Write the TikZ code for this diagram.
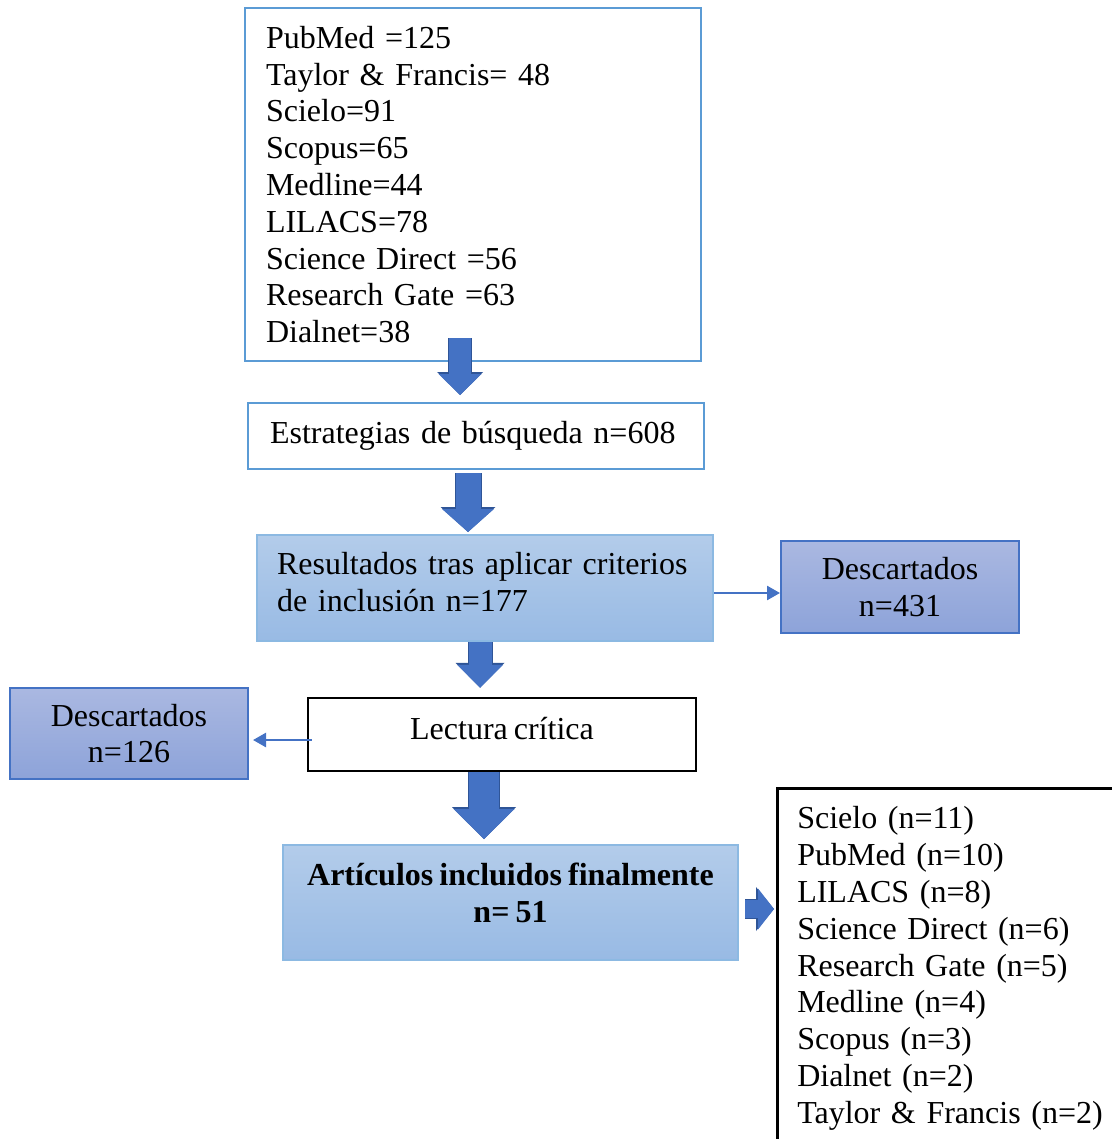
\documentclass[tikz,border=0pt]{standalone}
\usepackage{fontspec}
\setmainfont{Liberation Serif}[WordSpace=0.75]
\usetikzlibrary{arrows.meta}
\usetikzlibrary{calc}

\definecolor{cajaborde}{HTML}{5B9BD5}
\definecolor{flecha}{HTML}{4472C4}
\definecolor{flechaborde}{HTML}{2F5597}
\definecolor{celesteA}{HTML}{B3CCEA}
\definecolor{celesteB}{HTML}{98BAE4}
\definecolor{azulA}{HTML}{AAB8E1}
\definecolor{azulB}{HTML}{8DA3D9}

\tikzset{
  caja/.style={draw=cajaborde,line width=2pt,fill=white,inner sep=0pt},
  celeste/.style={draw=cajaborde!70,line width=2pt,top color=celesteA,bottom color=celesteB,inner sep=0pt,align=center},
  descarte/.style={draw=flecha,line width=2pt,top color=azulA,bottom color=azulB,inner sep=0pt,align=center},
  negra/.style={draw=black,line width=2.5pt,fill=white,inner sep=0pt},
  blockarrow/.style n args={3}{draw=flecha,line width=#1,-{Triangle[width=#2,length=#3,line width=0pt]},
    preaction={draw=flechaborde,line width=#1+2pt,-{Triangle[width=#2+3pt,length=#3+2pt,line width=0pt]}}},
  fina/.style={draw=flecha,line width=2.5pt,-{Triangle[width=14pt,length=13pt]}}
}

\begin{document}
\begin{tikzpicture}[x=1pt,y=-1pt,every node/.style={font=\fontsize{32}{36.8}\selectfont}]
      \useasboundingbox (0,0) rectangle (1111,1139);
      \node[caja,minimum width=456pt,minimum height=353pt,text width=414pt,align=left] (fuentes) at (473,184.5)
        {PubMed =125\\ Taylor \& Francis= 48\\ Scielo=91\\ Scopus=65\\ Medline=44\\ LILACS=78\\ Science Direct =56\\ Research Gate =63\\ Dialnet=38};
      \node[caja,minimum width=456pt,minimum height=66pt,text width=412pt,align=left] (busq) at (476,436)
        {Estrategias de búsqueda n=608};
      \node[celeste,minimum width=456pt,minimum height=106pt,text width=416pt,align=left,text depth=49pt] (incl) at (485,588)
        {\makebox[416pt][s]{Resultados tras aplicar criterios}\\ de inclusión n=177};
      \node[descarte,minimum width=238pt,minimum height=92pt] (desc1) at (900,587) {Descartados\\ n=431};
      \node[negra,minimum width=388pt,minimum height=73pt,text depth=12pt] (lect) at (502,734.5) {Lectura crítica};
      \node[descarte,minimum width=238pt,minimum height=91pt] (desc2) at (129,733.5) {Descartados\\ n=126};
      \node[celeste,minimum width=455pt,minimum height=115pt,text depth=20pt] (final) at (510.5,902.5)
        {\textbf{Artículos incluidos finalmente}\\ \textbf{n= 51}};
      \node[negra,anchor=north west,inner xsep=20pt,inner ysep=18.5pt,text width=322pt,align=left] (bases) at (776,787)
        {Scielo (n=11)\\ PubMed (n=10)\\ LILACS (n=8)\\ Science Direct (n=6)\\ Research Gate (n=5)\\ Medline (n=4)\\ Scopus (n=3)\\ Dialnet (n=2)\\ Taylor \& Francis (n=2)};
      % flechas grandes
      \draw[blockarrow={22pt}{43pt}{21pt}] ([xshift=-13pt,yshift=24pt]fuentes.south) -- ([xshift=-16pt,yshift=7pt]busq.north);
      \draw[blockarrow={25pt}{52pt}{23pt}] ([xshift=-8pt,yshift=-3pt]busq.south) -- ([xshift=-17pt,yshift=2pt]incl.north);
      \draw[blockarrow={23pt}{46pt}{23pt}] ([xshift=-5pt]incl.south) -- ([xshift=-22pt,yshift=9pt]lect.north);
      \draw[blockarrow={30pt}{61pt}{30pt}] ([xshift=-18pt]lect.south) -- ([xshift=-26.5pt,yshift=5pt]final.north);
      \draw[blockarrow={18pt}{41pt}{16pt}] ([xshift=6pt,yshift=-6.5pt]final.east) -- ([xshift=-2pt,yshift=-6.5pt]final.east -| bases.west);
      % flechas finas
      \draw[fina] ([yshift=-5pt]incl.east) -- ([yshift=-5pt]incl.east -| desc1.west);
      \draw[fina] ([xshift=5pt,yshift=-5.5pt]lect.west) -- ([xshift=4pt,yshift=-5.5pt]lect.west -| desc2.east);
    \end{tikzpicture}
\end{document}
